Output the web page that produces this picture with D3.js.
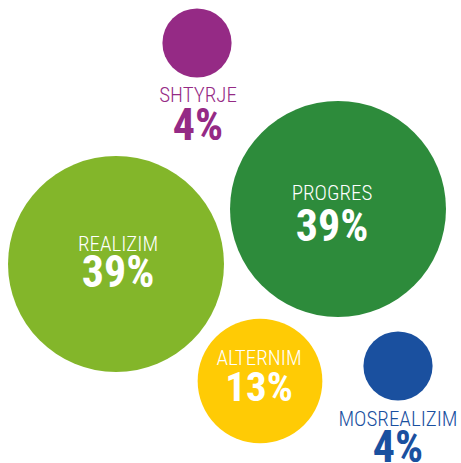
<!DOCTYPE html>
<html>
<head>
<meta charset="utf-8">
<script src="https://cdn.jsdelivr.net/npm/d3@7"></script>
<style>
    html, body { margin: 0; padding: 0; background: #ffffff; }
    svg { display: block; }
    text { font-family: "Roboto Condensed", "Liberation Sans Narrow", "DejaVu Sans Condensed", sans-serif; }
</style>
</head>
<body>
<script>
"use strict";

// data
const categories = ["SHTYRJE", "PROGRES", "REALIZIM", "ALTERNIM", "MOSREALIZIM"];
const values = [4, 39, 39, 13, 4];
const colors = ["#952A85", "#2D8B3B", "#83B62A", "#FFCB05", "#1A509F"];

// where each bubble sits (layout, not data)
const layout = [
    { cx: 197, cy: 43, tx: 198, ty: 102, gap: 38, inside: false },
    { cx: 338, cy: 209, tx: 332, ty: 200, gap: 41, inside: true },
    { cx: 116, cy: 264, tx: 118, ty: 251, gap: 36, inside: true },
    { cx: 260, cy: 381, tx: 259, ty: 365, gap: 36, inside: true },
    { cx: 398, cy: 366, tx: 398, ty: 426, gap: 36, inside: false }
];

const measurements = { width: 461, height: 463 };

const rows = categories.map((c, i) => ({ name: c, value: values[i], color: colors[i], pos: layout[i] }));

const svg = d3.select("body").append("svg")
    .attr("width", measurements.width)
    .attr("height", measurements.height);

// bubble area proportional to value
const scaleR = d3.scaleSqrt()
    .domain([0, d3.max(values)])
    .range([0, 108]);

const bubbles = svg.selectAll(".bubble")
    .data(rows)
    .enter()
    .append("g")
    .attr("class", "bubble");

bubbles.append("circle")
    .attr("cx", d => d.pos.cx)
    .attr("cy", d => d.pos.cy)
    .attr("r", d => scaleR(d.value))
    .style("fill", d => d.color);

bubbles.append("text")
    .attr("x", d => d.pos.tx)
    .attr("y", d => d.pos.ty)
    .attr("text-anchor", "middle")
    .style("font-size", "21px")
    .style("font-weight", "300")
    .style("fill", d => d.pos.inside ? "#ffffff" : d.color)
    .text(d => d.name);

bubbles.append("text")
    .attr("x", d => d.pos.tx)
    .attr("y", d => d.pos.ty + d.pos.gap)
    .attr("text-anchor", "middle")
    .style("font-size", d => d.value === 13 ? "41px" : "44px")
    .style("font-weight", "bold")
    .style("fill", d => d.pos.inside ? "#ffffff" : d.color)
    .text(d => d.value + "%");
</script>
</body>
</html>
